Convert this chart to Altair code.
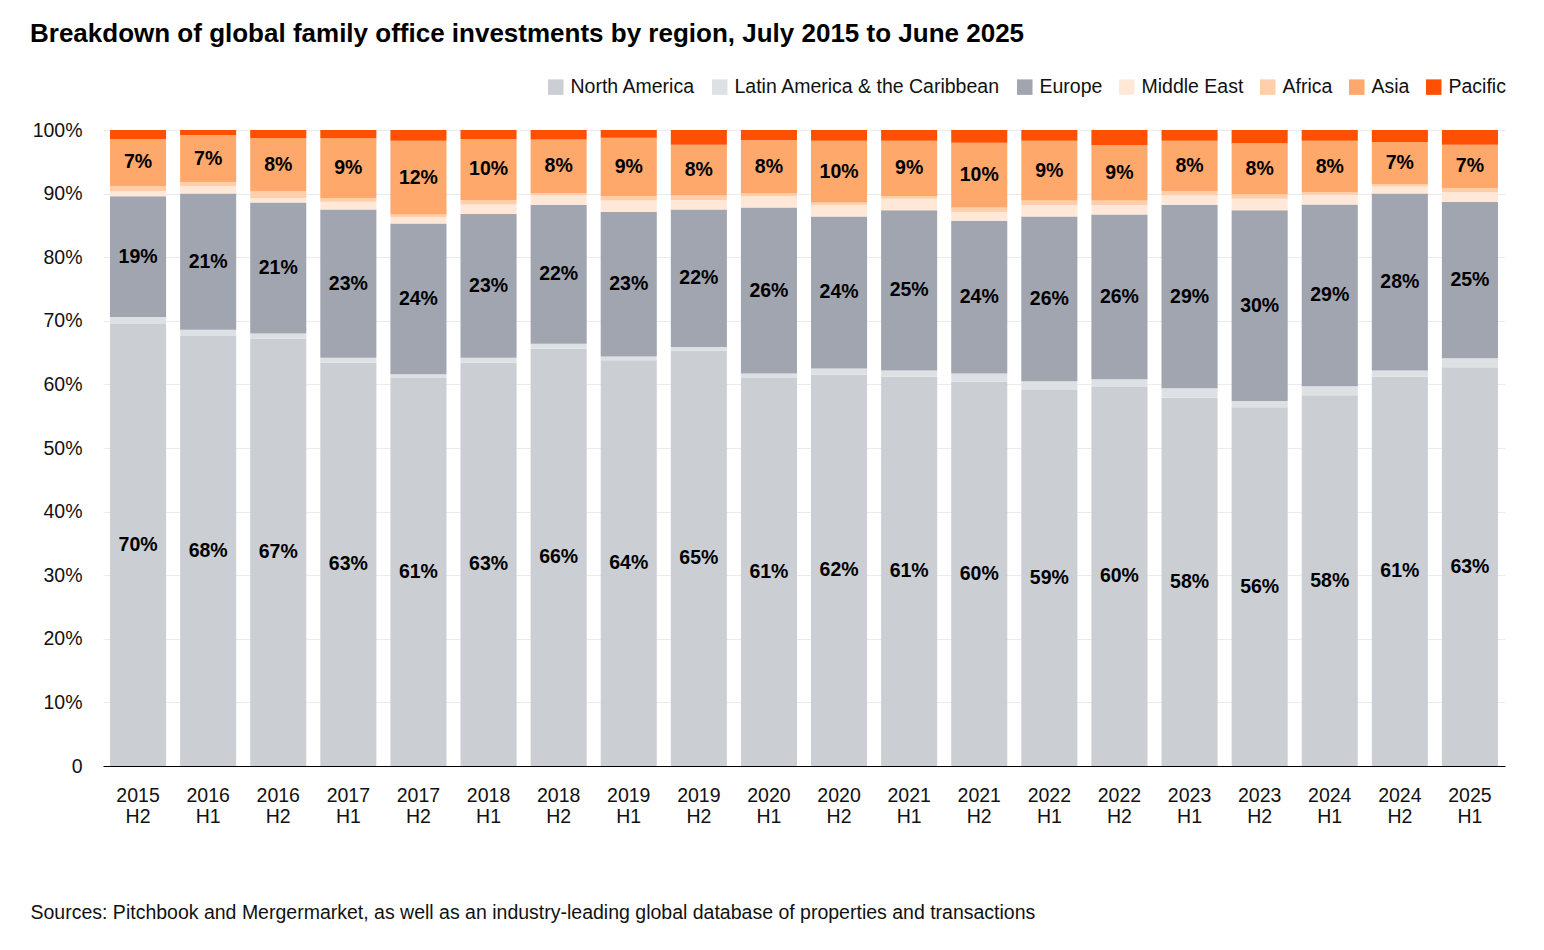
import altair as alt
import pandas as pd

periods = ["2015 H2", "2016 H1", "2016 H2", "2017 H1", "2017 H2", "2018 H1", "2018 H2",
           "2019 H1", "2019 H2", "2020 H1", "2020 H2", "2021 H1", "2021 H2", "2022 H1",
           "2022 H2", "2023 H1", "2023 H2", "2024 H1", "2024 H2", "2025 H1"]

north_america = [69.5, 67.6, 67.2, 63.4, 61.0, 63.4, 65.6, 63.8, 65.3, 61.0,
                 61.5, 61.2, 60.4, 59.1, 59.6, 57.9, 56.4, 58.3, 61.2, 62.7]
latin_america = [1.1, 1.0, 0.8, 0.8, 0.6, 0.8, 0.8, 0.6, 0.6, 0.7,
                 1.0, 1.0, 1.3, 1.4, 1.2, 1.5, 1.0, 1.4, 1.0, 1.4]
europe = [19.0, 21.4, 20.6, 23.3, 23.7, 22.6, 21.8, 22.7, 21.6, 26.1,
          23.9, 25.2, 24.0, 25.9, 25.9, 28.8, 30.0, 28.6, 27.8, 24.6]
middle_east = [0.8, 1.2, 0.7, 1.2, 1.0, 1.5, 1.5, 1.8, 1.5, 1.8,
               1.8, 1.8, 1.4, 1.8, 1.5, 1.5, 1.8, 1.5, 1.1, 1.5]
africa = [0.8, 0.6, 1.1, 0.6, 0.4, 0.7, 0.4, 0.7, 0.7, 0.4,
          0.4, 0.4, 0.7, 0.7, 0.7, 0.7, 0.7, 0.4, 0.4, 0.7]
asia = [7.4, 7.4, 8.3, 9.4, 11.6, 9.6, 8.4, 9.2, 8.0, 8.4,
        9.7, 8.7, 10.2, 9.4, 8.7, 7.9, 8.0, 8.1, 6.6, 6.8]
pacific = [1.4, 0.8, 1.3, 1.3, 1.7, 1.4, 1.5, 1.2, 2.3, 1.6,
           1.7, 1.7, 2.0, 1.7, 2.4, 1.7, 2.1, 1.7, 1.9, 2.3]

regions = ["North America", "Latin America & the Caribbean", "Europe", "Middle East",
           "Africa", "Asia", "Pacific"]
colors = ["#cbcfd4", "#dee1e4", "#a0a5b0", "#ffe8d8", "#ffcfab", "#ffa86c", "#fe5000"]
labeled = ["North America", "Europe", "Asia"]
y_ticks = [0, 10, 20, 30, 40, 50, 60, 70, 80, 90, 100]

title_text = "Breakdown of global family office investments by region, July 2015 to June 2025"
source_text = ("Sources: Pitchbook and Mergermarket, as well as an industry-leading global "
               "database of properties and transactions")

series = [north_america, latin_america, europe, middle_east, africa, asia, pacific]
rows = []
for i, p in enumerate(periods):
    for k, (r, vals) in enumerate(zip(regions, series)):
        rows.append({"period": p, "region": r, "value": vals[i], "order": k})
df = pd.DataFrame(rows)

FONT = "Liberation Sans"

x_enc = alt.X(
    "period:N", sort=periods,
    scale=alt.Scale(paddingInner=0.2, paddingOuter=0.1),
    axis=alt.Axis(
        title=source_text, titleAnchor="start", titleAlign="left", titleX=-73, titleY=152,
        titleBaseline="alphabetic", titleFontSize=19.5, titleFontWeight="normal",
        titleColor="#111111", titleFont=FONT,
        labelExpr="split(datum.label, ' ')", labelAngle=0, labelFontSize=19.5,
        labelFont=FONT, labelColor="#111111", labelLineHeight=21, labelPadding=20,
        ticks=False, domainColor="#000000", domainWidth=1, grid=False,
    ),
)

y_axis = alt.Axis(
    title=None, values=y_ticks, labelExpr="datum.value == 0 ? '0' : datum.value + '%'",
    labelFontSize=19.5, labelFont=FONT, labelColor="#111111", labelPadding=21,
    ticks=False, domain=False, grid=True, gridColor="#ebebeb", gridWidth=1,
)
y_scale = alt.Scale(domain=[0, 100], nice=False)

bars = alt.Chart(df).mark_bar().encode(
    x=x_enc,
    y=alt.Y("value:Q", stack="zero", scale=y_scale, axis=y_axis),
    color=alt.Color(
        "region:N",
        scale=alt.Scale(domain=regions, range=colors),
        legend=alt.Legend(
            title=None, orient="none", direction="horizontal", legendX=443, legendY=-53,
            symbolType="square", symbolSize=240, symbolStrokeWidth=0, labelFontSize=19.5,
            labelFont=FONT, labelColor="#111111", labelOffset=5, columnPadding=14,
            labelLimit=0,
        ),
    ),
    order=alt.Order("order:Q", sort="ascending"),
)

labels = alt.Chart(df).transform_stack(
    stack="value", groupby=["period"], sort=[alt.SortField("order", order="ascending")],
    as_=["y0", "y1"],
).transform_calculate(
    mid="(datum.y0 + datum.y1) / 2",
    label="format(datum.value, '.0f') + '%'",
).transform_filter(
    alt.FieldOneOfPredicate(field="region", oneOf=labeled)
).mark_text(fontWeight="bold", fontSize=19.5, font=FONT, color="#000000").encode(
    x=x_enc,
    y=alt.Y("mid:Q", scale=y_scale, axis=y_axis),
    text="label:N",
)

chart = alt.layer(bars, labels).properties(
    width=1402, height=636,
    padding={"left": 95, "top": 122, "right": 31, "bottom": 160},
    autosize=alt.AutoSizeParams(type="none"),
    title=alt.TitleParams(
        title_text, anchor="start", frame="bounds", fontSize=26, font=FONT,
        fontWeight="bold", color="#000000", offset=30,
    ),
).configure_view(stroke=None)

chart.save("out.html", embed_options={"renderer": "svg", "actions": False})
